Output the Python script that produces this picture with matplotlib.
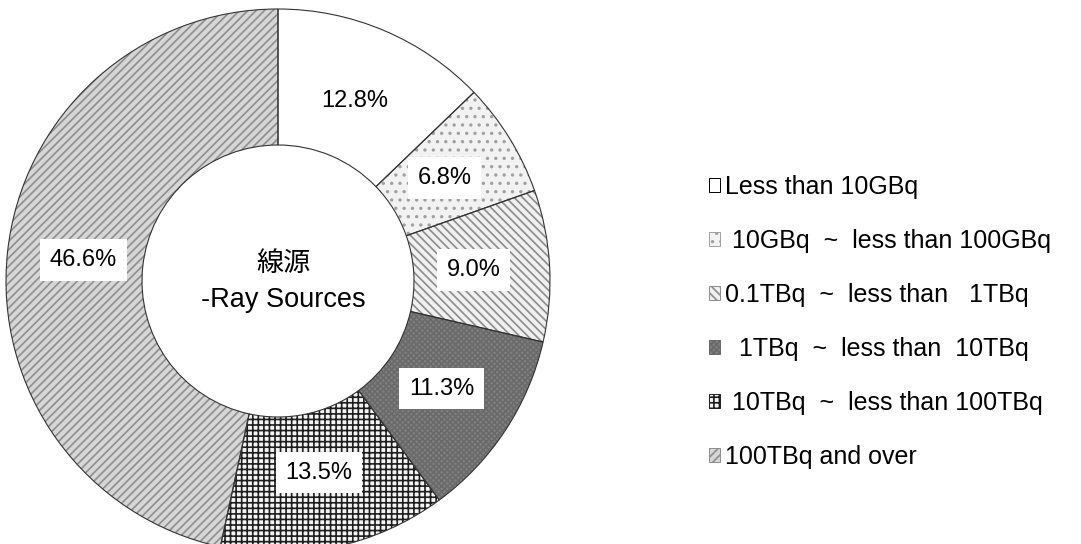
import matplotlib.pyplot as plt

plt.rcParams['font.family'] = ['Liberation Sans', 'DejaVu Sans']
plt.rcParams['hatch.linewidth'] = 1.2

# data, clockwise from 12 o'clock
categories = ['Less than 10GBq',
              ' 10GBq  ~  less than 100GBq',
              '0.1TBq  ~  less than   1TBq',
              '  1TBq  ~  less than  10TBq',
              ' 10TBq  ~  less than 100TBq',
              '100TBq and over']
shares = [12.8, 6.8, 9.0, 11.3, 13.5, 46.6]
pct_labels = ['12.8%', '6.8%', '9.0%', '11.3%', '13.5%', '46.6%']

faces = ['white', '#f2f2f2', '#f0f0f0', '#808080', '#f4f4f4', '#d6d6d6']
hatch_cols = ['black', '#a0a0a0', '#8c8c8c', '#6a6a6a', '#1e1e1e', '#8e8e8e']
hatches = ['', '..', '\\\\\\\\', 'xxxxxx', '+++', '////']

fig = plt.figure(figsize=(10.81, 5.44), dpi=100)
ax = fig.add_axes([6 / 1081, -9 / 544, 544 / 1081, 1.0])

wedges, _ = ax.pie(shares, startangle=90, counterclock=False, radius=1,
                   wedgeprops=dict(width=0.5, linewidth=0))
for w, fc, hc, h in zip(wedges, faces, hatch_cols, hatches):
    w.set_facecolor(fc)
    w.set_edgecolor(hc)
    w.set_hatch(h)

# black outlines drawn on top
ax.pie(shares, startangle=90, counterclock=False, radius=1,
       wedgeprops=dict(width=0.5, fill=False, edgecolor='#333333', linewidth=0.8))

# percentage labels on white boxes
_, texts = ax.pie(shares, startangle=90, counterclock=False, radius=1,
                  labels=pct_labels, labeldistance=0.72,
                  wedgeprops=dict(width=0.5, fill=False, linewidth=0))
for t in texts:
    t.set_ha('center')
    t.set_va('center')
    t.set_fontsize(17)
    t.set_bbox(dict(facecolor='white', edgecolor='none', pad=7))

ax.text(0.02, 0.066, '線源', ha='center', va='center', fontsize=19.5,
        family=['Noto Sans CJK JP', 'DejaVu Sans'])
ax.text(0.02, -0.07, '-Ray Sources', ha='center', va='center', fontsize=19.5)
ax.set_xlim(-1, 1)
ax.set_ylim(-1, 1)
ax.set_aspect('equal')
ax.axis('off')

leg = fig.legend(wedges, categories, loc='center left',
                 bbox_to_anchor=(696 / 1081, 1 - 322 / 544), frameon=False,
                 fontsize=18, handlelength=0.45, handleheight=0.45,
                 handletextpad=0.2, labelspacing=1.2, borderpad=0)
for h in leg.legend_handles:
    h.set_linewidth(0.7)

fig.savefig('out.png', dpi=100)
